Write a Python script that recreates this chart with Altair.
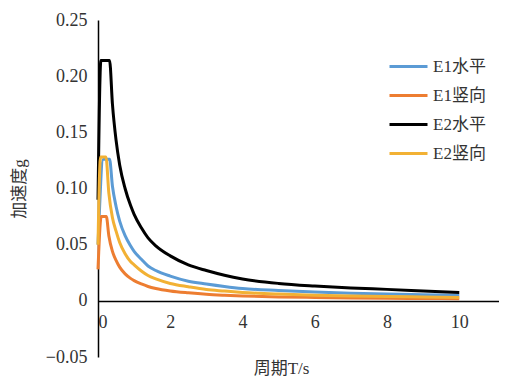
import altair as alt
import pandas as pd

series = ["E1水平", "E1竖向", "E2水平", "E2竖向"]
colors = ["#5B9BD5", "#ED7D31", "#000000", "#F2B134"]

T_e1h = [0, 0.15, 0.32, 0.4, 0.5, 0.6, 0.75, 0.9, 1.0, 1.2, 1.385, 1.6, 2, 2.5, 3, 3.5, 4, 5, 6, 7, 8, 9, 10]
v_e1h = [0.05, 0.126, 0.126, 0.102, 0.084, 0.071, 0.058, 0.049, 0.044, 0.037, 0.031, 0.027, 0.022, 0.0175,
         0.015, 0.0128, 0.011, 0.0092, 0.0078, 0.0068, 0.006, 0.0054, 0.005]

T_e1v = [0, 0.09, 0.23, 0.3, 0.4, 0.5, 0.6, 0.75, 0.9, 1.0, 1.2, 1.385, 1.6, 2, 2.5, 3, 3.5, 4, 5, 6, 7, 8, 9, 10]
v_e1v = [0.028, 0.075, 0.075, 0.058, 0.044, 0.036, 0.030, 0.024, 0.020, 0.018, 0.015, 0.0128, 0.011, 0.0088,
         0.0071, 0.0058, 0.005, 0.0044, 0.0035, 0.003, 0.0026, 0.0023, 0.0021, 0.0019]

T_e2h = [0, 0.08, 0.32, 0.4, 0.5, 0.6, 0.75, 0.9, 1.0, 1.2, 1.385, 1.6, 2, 2.5, 3, 3.5, 4, 5, 6, 7, 8, 9, 10]
v_e2h = [0.09, 0.214, 0.214, 0.175, 0.143, 0.121, 0.100, 0.085, 0.077, 0.065, 0.056, 0.049, 0.040, 0.032,
         0.027, 0.0228, 0.0195, 0.0155, 0.0132, 0.0115, 0.0102, 0.0088, 0.0074]

T_e2v = [0, 0.07, 0.22, 0.3, 0.4, 0.5, 0.6, 0.75, 0.9, 1.0, 1.2, 1.385, 1.6, 2, 2.5, 3, 3.5, 4, 5, 6, 7, 8, 9, 10]
v_e2v = [0.05, 0.128, 0.128, 0.096, 0.074, 0.062, 0.052, 0.042, 0.035, 0.032, 0.0265, 0.0225, 0.0195, 0.0155,
         0.0125, 0.010, 0.0087, 0.0075, 0.006, 0.005, 0.0043, 0.0038, 0.0034, 0.003]

x_ticks = [0, 2, 4, 6, 8, 10]
y_ticks = [-0.05, 0, 0.05, 0.10, 0.15, 0.20, 0.25]

rows = []
for i, (ts, vs) in enumerate([(T_e1h, v_e1h), (T_e1v, v_e1v), (T_e2h, v_e2h), (T_e2v, v_e2v)]):
    for j, (t, v) in enumerate(zip(ts, vs)):
        rows.append({"T": t, "a": v, "series": series[i], "order": i, "idx": j})
df = pd.DataFrame(rows)

SERIF = "Liberation Serif, serif"
MIXED = "Liberation Serif, Noto Sans CJK SC, serif"

chart = alt.Chart(df).mark_line(strokeWidth=3, interpolate="monotone").encode(
    x=alt.X("T:Q",
            scale=alt.Scale(domain=[0, 11.1], nice=False, zero=False),
            axis=alt.Axis(values=x_ticks, ticks=False, grid=False, offset=-56,
                          domainColor="#000000", domainWidth=1.5,
                          labelFont=SERIF, labelFontSize=18, labelPadding=12, labelColor="#333333",
                          title="周期T/s", titleFont=MIXED, titleFontSize=17, titleFontWeight="normal",
                          titleColor="#333333", titlePadding=29, titleX=183)),
    y=alt.Y("a:Q",
            scale=alt.Scale(domain=[-0.05, 0.25], nice=False, zero=False),
            axis=alt.Axis(values=y_ticks, ticks=False, grid=False,
                          domainColor="#000000", domainWidth=1.5,
                          labelExpr="datum.value == 0 ? '0' : format(datum.value, '.2f')",
                          labelFont=SERIF, labelFontSize=18, labelPadding=11, labelColor="#333333",
                          title="加速度g", titleFont=MIXED, titleFontSize=17, titleFontWeight="normal",
                          titleColor="#333333", titleX=-70)),
    color=alt.Color("series:N",
                    scale=alt.Scale(domain=series, range=colors),
                    legend=alt.Legend(title=None, orient="none", legendX=290, legendY=26,
                                      symbolType="stroke", symbolStrokeWidth=3,
                                      symbolSize=1444, labelFont=MIXED, labelFontSize=17,
                                      labelColor="#333333", rowPadding=-9,
                                      labelOffset=4)),
    order=alt.Order("idx:Q"),
    detail="order:N",
).properties(width=401, height=337, padding={"left": 2, "top": 3, "right": 0, "bottom": 0}
).configure_view(stroke=None)

chart.save("out.html", embed_options={"renderer": "svg", "actions": False})
